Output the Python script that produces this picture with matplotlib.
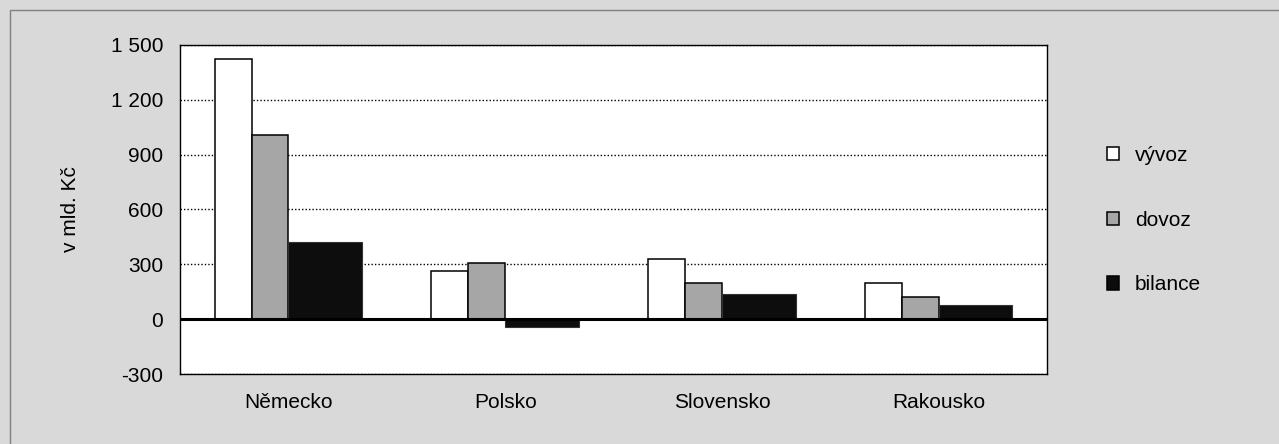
import matplotlib

matplotlib.use("Agg")
import matplotlib.pyplot as plt
import numpy as np
from matplotlib.patches import Patch, Rectangle

countries = ["Německo", "Polsko", "Slovensko", "Rakousko"]
vyvoz = [1425, 265, 328, 200]
dovoz = [1006, 306, 197, 120]
bilance = [420, -45, 135, 78]
series_names = ["vývoz", "dovoz", "bilance"]
yticks = [-300, 0, 300, 600, 900, 1200, 1500]
ytick_labels = ["-300", "0", "300", "600", "900", "1 200", "1 500"]

plt.rcParams["font.family"] = ["Liberation Sans", "DejaVu Sans"]
FS = 15
BG = "#d9d9d9"
colors = ["#ffffff", "#a6a6a6", "#0d0d0d"]

W, H = 1279, 444
fig = plt.figure(figsize=(W / 100, H / 100), dpi=100, facecolor=BG)
fig.patches.append(Rectangle((10 / W, -0.1), 1.2, 1 - 10 / H + 0.1,
                             transform=fig.transFigure, facecolor="none",
                             edgecolor="#808080", lw=1.0))

ax = fig.add_axes([180 / W, 1 - 374 / H, (1047 - 180) / W, (374 - 45) / H])
x = np.arange(len(countries))
bw = 0.17
ax.bar(x - 1.5 * bw, vyvoz, bw, color=colors[0], edgecolor="black", lw=1.1, zorder=3)
ax.bar(x - 0.5 * bw, dovoz, bw, color=colors[1], edgecolor="black", lw=1.1, zorder=3)
ax.bar(x + 1.0 * bw, bilance, 2 * bw, color=colors[2], edgecolor="#333333", lw=0.8, zorder=3)

ax.axhline(0, color="black", lw=2.2, zorder=4)
ax.set_xlim(-0.5, len(countries) - 0.5)
ax.set_ylim(-300, 1500)
ax.set_yticks(yticks)
ax.set_yticklabels(ytick_labels, fontsize=FS)
ax.set_xticks(x)
ax.set_xticklabels(countries, fontsize=FS)
ax.tick_params(axis="both", length=0, pad=12)
ax.tick_params(axis="x", pad=14)
ax.yaxis.grid(True, linestyle=(0, (1, 1.5)), color="black", lw=1.0, zorder=1)
for s in ax.spines.values():
    s.set_color("black")
    s.set_linewidth(1.0)
ax.set_ylabel("v mld. Kč", fontsize=FS, labelpad=22)

handles = [Patch(facecolor=c, edgecolor="black", lw=1.1) for c in colors]
fig.legend(handles, series_names, loc="center left", bbox_to_anchor=(1088 / W, 1 - 220 / H),
           frameon=False, fontsize=FS, handlelength=0.6, handleheight=0.6,
           handletextpad=0.75, labelspacing=2.2)

fig.savefig("out.png", dpi=100, facecolor=BG)
